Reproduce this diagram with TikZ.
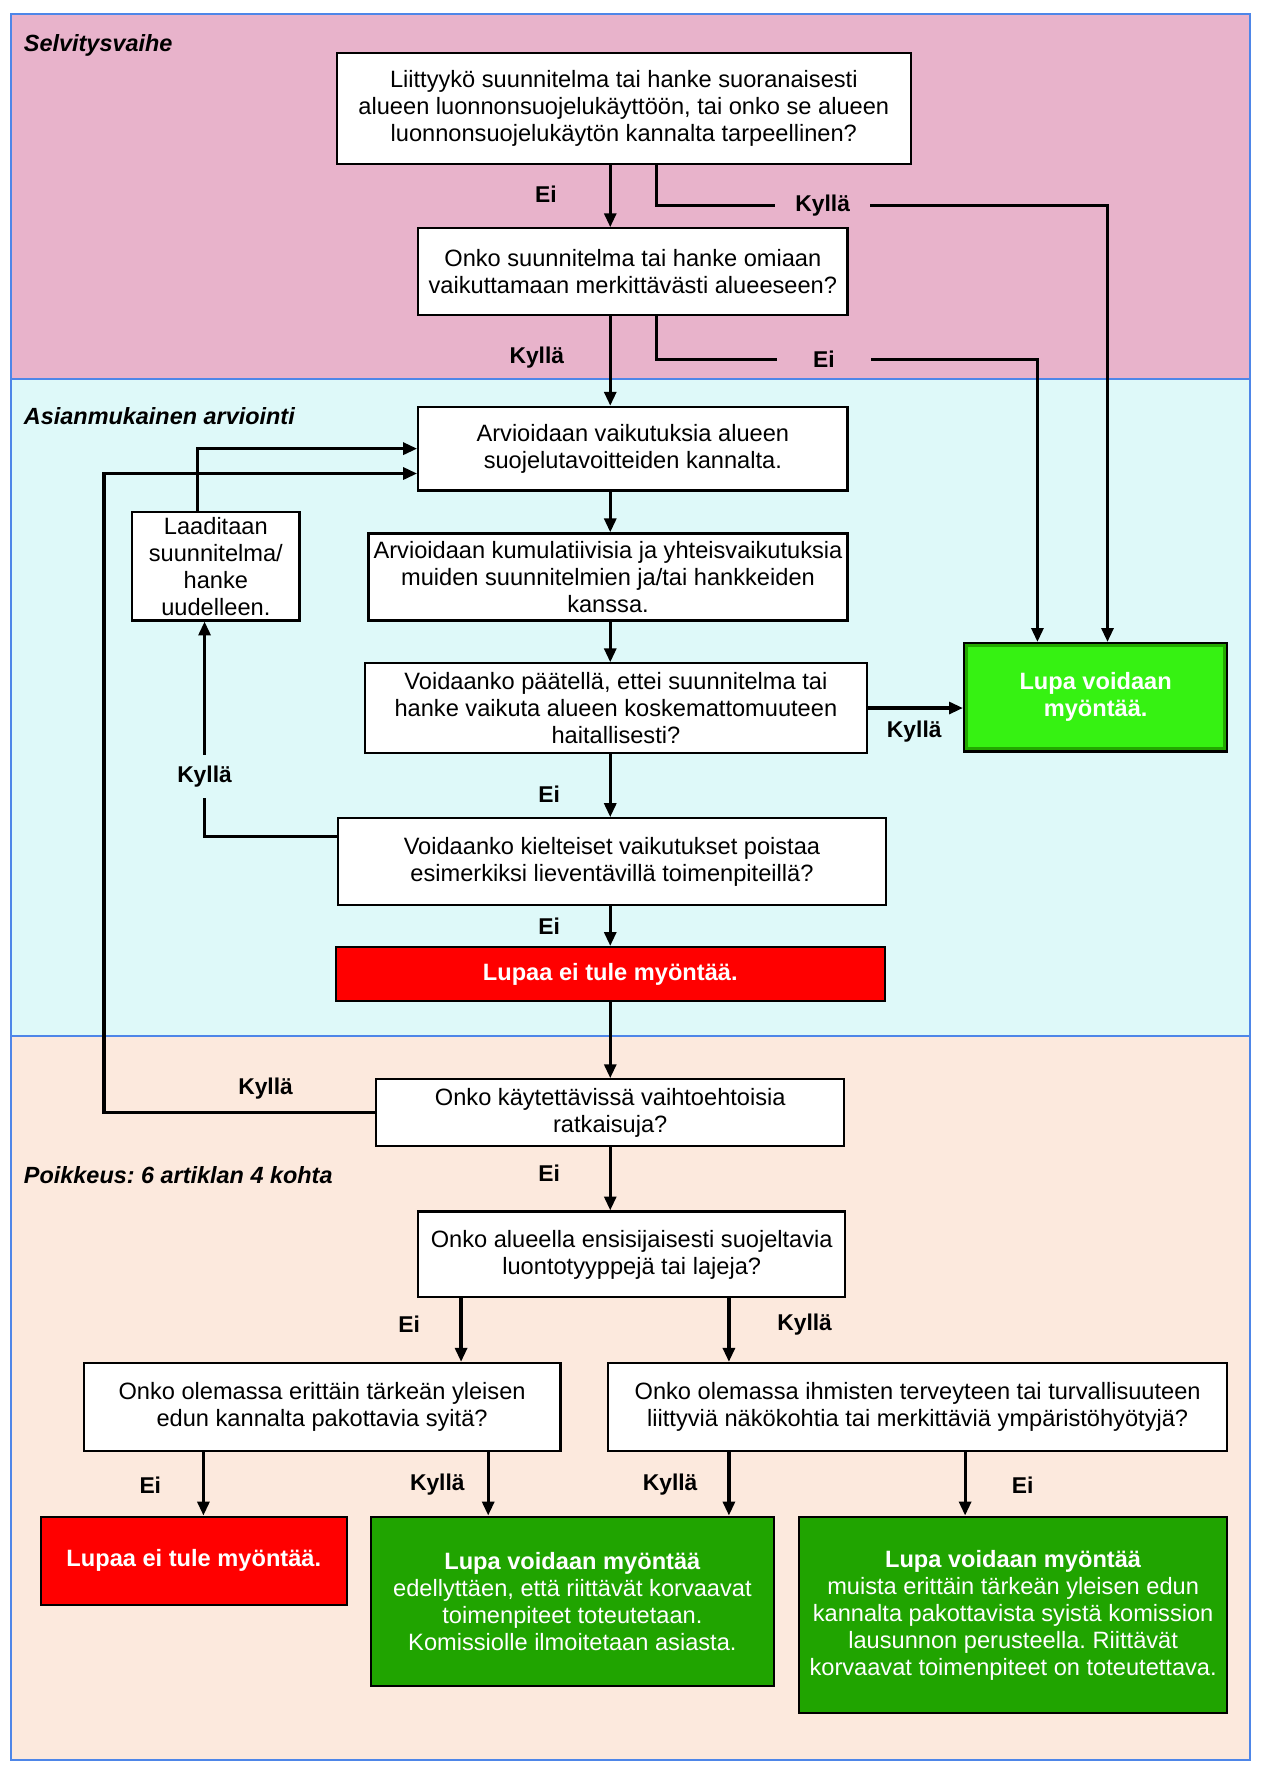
\documentclass[tikz,border=0pt]{standalone}
\usepackage{fontspec}
\setmainfont{Liberation Sans}
\usetikzlibrary{arrows.meta,calc}
\frenchspacing

\definecolor{pinkbg}{HTML}{E8B3CB}
\definecolor{cyanbg}{HTML}{DEF9F9}
\definecolor{peachbg}{HTML}{FCE9DD}
\definecolor{frameblue}{HTML}{4E86E8}
\definecolor{nogored}{HTML}{FF0000}
\definecolor{golight}{HTML}{36F212}
\definecolor{gorim}{HTML}{22A800}
\definecolor{godeep}{HTML}{20A400}

\begin{document}
\begin{tikzpicture}[
  x=0.02cm, y=-0.02cm,
  font=\fontsize{11.9}{13.6}\selectfont,
  box/.style={draw, line width=1.1pt, fill=white, align=center, inner sep=0pt},
  nogo/.style={box, fill=nogored, text=white, font=\fontsize{11.9}{13.6}\selectfont\bfseries},
  gobright/.style={box, fill=gorim, text=white, font=\fontsize{11.9}{13.6}\selectfont\bfseries,
    path picture={\fill[golight] ([shift={(2.2pt,-2.2pt)}]path picture bounding box.north west)
      rectangle ([shift={(-2.2pt,2.2pt)}]path picture bounding box.south east);}},
  godark/.style={box, fill=godeep, text=white},
  lbl/.style={font=\fontsize{11.5}{13.6}\selectfont\bfseries},
  gaplbl/.style={lbl, minimum width=1.66cm, inner sep=0pt},
  phase/.style={anchor=west, font=\fontsize{11.8}{13.6}\selectfont\bfseries\itshape},
  flow/.style={line width=1.6pt},
  >={Triangle[length=7pt,width=6pt]}
]
\useasboundingbox (0,0) rectangle (1115,1568);

% phases
\fill[pinkbg] (10,12) rectangle (1106,335);
\fill[cyanbg] (10,335) rectangle (1106,917);
\fill[peachbg] (10,917) rectangle (1106,1557);
\draw[frameblue, line width=1pt] (10,12) rectangle (1106,1557)
  (10,335) -- (1106,335) (10,917) -- (1106,917);
\node[phase] (ph1) at (15,40) {Selvitysvaihe};
\node[phase] (ph2) at (15,368) {Asianmukainen arviointi};
\node[phase] (ph3) at (15,1040) {Poikkeus: 6 artiklan 4 kohta};

% columns
\coordinate (mid) at (540,0);
\coordinate (side) at (581,0);
\coordinate (far1) at (918,0);
\coordinate (far2) at (980,0);
\coordinate (back) at (92,0);
\coordinate (up) at (175,0);
\coordinate (lft) at (408,0);
\coordinate (rgt) at (645,0);
\coordinate (c1) at (180,0);
\coordinate (c2) at (432,0);
\coordinate (c4) at (854,0);

% boxes
\node[box, minimum width=10.16cm, minimum height=1.96cm] (q1) at (552,96)
  {Liittyykö suunnitelma tai hanke suoranaisesti\\alueen luonnonsuojelukäyttöön, tai onko se alueen\\luonnonsuojelukäytön kannalta tarpeellinen?};
\node[box, minimum width=7.6cm, minimum height=1.54cm] (q2) at (560,240.5)
  {Onko suunnitelma tai hanke omiaan\\vaikuttamaan merkittävästi alueeseen?};
\node[box, minimum width=7.6cm, minimum height=1.48cm] (assess) at (560,397)
  {Arvioidaan vaikutuksia alueen\\suojelutavoitteiden kannalta.};
\node[box, minimum width=8.48cm, minimum height=1.54cm] (cumul) at (538,510.5)
  {Arvioidaan kumulatiivisia ja yhteisvaikutuksia\\muiden suunnitelmien ja/tai hankkeiden\\kanssa.};
\node[box, minimum width=8.88cm, minimum height=1.58cm] (q3) at (545,626.5)
  {Voidaanko päätellä, ettei suunnitelma tai\\hanke vaikuta alueen koskemattomuuteen\\haitallisesti?};
\node[gobright, minimum width=4.66cm, minimum height=1.92cm] (ok1) at (969.5,617)
  {Lupa voidaan\\myöntää.};
\node[box, minimum width=2.96cm, minimum height=1.92cm] (redo) at (191,501)
  {Laaditaan\\suunnitelma/\\hanke\\uudelleen.};
\node[box, minimum width=9.7cm, minimum height=1.54cm] (q4) at (541.5,762.5)
  {Voidaanko kielteiset vaikutukset poistaa\\esimerkiksi lieventävillä toimenpiteillä?};
\node[nogo, minimum width=9.72cm, minimum height=0.96cm] (no1) at (540,862)
  {Lupaa ei tule myöntää.};
\node[box, minimum width=8.28cm, minimum height=1.18cm] (q5) at (540,984.5)
  {Onko käytettävissä vaihtoehtoisia\\ratkaisuja?};
\node[box, minimum width=7.56cm, minimum height=1.52cm] (q6) at (559,1110)
  {Onko alueella ensisijaisesti suojeltavia\\luontotyyppejä tai lajeja?};
\node[box, minimum width=8.44cm, minimum height=1.56cm] (q7) at (285,1245)
  {Onko olemassa erittäin tärkeän yleisen\\edun kannalta pakottavia syitä?};
\node[box, minimum width=10.96cm, minimum height=1.56cm] (q8) at (812,1245)
  {Onko olemassa ihmisten terveyteen tai turvallisuuteen\\liittyviä näkökohtia tai merkittäviä ympäristöhyötyjä?};
\node[nogo, minimum width=5.42cm, minimum height=1.56cm] (no2) at (171.5,1381)
  {Lupaa ei tule myöntää.};
\node[godark, minimum width=7.14cm, minimum height=3.0cm] (ok2) at (506.5,1417)
  {\textbf{Lupa voidaan myöntää}\\edellyttäen, että riittävät korvaavat\\toimenpiteet toteutetaan.\\Komissiolle ilmoitetaan asiasta.};
\node[godark, minimum width=7.58cm, minimum height=3.48cm] (ok3) at (896.5,1429)
  {\textbf{Lupa voidaan myöntää}\\muista erittäin tärkeän yleisen edun\\kannalta pakottavista syistä komission\\lausunnon perusteella. Riittävät\\korvaavat toimenpiteet on toteutettava.};

% labels
\node[lbl] (ei1) at (483,172) {Ei};
\node[gaplbl] (kya) at (728,182) {Kyllä};
\node[lbl] (kyb) at (475,316) {Kyllä};
\node[gaplbl] (eib) at (729,318) {Ei};
\node[lbl] (kye) at (809,647) {Kyllä};
\node[lbl] (eie) at (486,703) {Ei};
\node[lbl, minimum height=0.76cm, inner sep=0pt] (kyf) at (181,687) {Kyllä};
\node[lbl] (eif) at (486,820) {Ei};
\node[lbl] (kyh) at (235,963) {Kyllä};
\node[lbl] (eih) at (486,1038) {Ei};
\node[lbl] (eii) at (362,1172) {Ei};
\node[lbl] (kyi) at (712,1172) {Kyllä};
\node[lbl] (eij) at (133,1314) {Ei};
\node[lbl] (kyj) at (387,1314) {Kyllä};
\node[lbl] (kyk) at (593,1314) {Kyllä};
\node[lbl] (eik) at (905,1314) {Ei};

% connectors
\draw[flow,->] (q1.south -| mid) -- (q2.north -| mid);
\draw[flow] (q1.south -| side) |- (kya.west);
\draw[flow,->] (kya.east) -| (ok1.north -| far2);
\draw[flow,->] (q2.south -| mid) -- (assess.north -| mid);
\draw[flow] (q2.south -| side) |- (eib.west);
\draw[flow,->] (eib.east) -| (ok1.north -| far1);
\draw[flow,->] (assess.south -| mid) -- (cumul.north -| mid);
\draw[flow,->] (cumul.south -| mid) -- (q3.north -| mid);
\draw[flow,->] (q3.east) -- (q3.east -| ok1.west);
\draw[flow,->] (q3.south -| mid) -- (q4.north -| mid);
\draw[flow] ($(q4.west)+(0,-22)$) -| (kyf.south);
\draw[flow,->] (kyf.north) -- (redo.south -| kyf.north);
\draw[flow,->] (redo.north -| up) |- (assess.west);
\draw[flow,->] (q4.south -| mid) -- (no1.north -| mid);
\draw[flow,->] (no1.south -| mid) -- (q5.north -| mid);
\coordinate (cin) at ($(assess.west)+(0,22)$);
\draw[flow,->] (q5.west) -| (back |- cin) -- (cin);
\draw[flow,->] (q5.south -| mid) -- (q6.north -| mid);
\draw[flow,->] (q6.south -| lft) -- (q7.north -| lft);
\draw[flow,->] (q6.south -| rgt) -- (q8.north -| rgt);
\draw[flow,->] (q7.south -| c1) -- (no2.north -| c1);
\draw[flow,->] (q7.south -| c2) -- (ok2.north -| c2);
\draw[flow,->] (q8.south -| rgt) -- (ok2.north -| rgt);
\draw[flow,->] (q8.south -| c4) -- (ok3.north -| c4);
\end{tikzpicture}
\end{document}
